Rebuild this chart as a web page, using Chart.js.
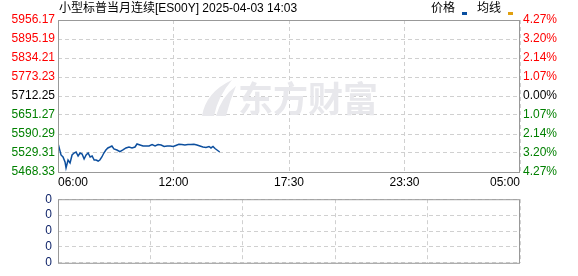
<!DOCTYPE html>
<html>
<head>
<meta charset="utf-8">
<script src="https://cdn.jsdelivr.net/npm/chart.js@4.4.0/dist/chart.umd.min.js"></script>
<style>
    body { margin: 0; background: #fff; }
    #wrap { position: relative; width: 578px; height: 276px; }
    canvas { position: absolute; left: 0; }
</style>
</head>
<body>
<div id="wrap">
    <canvas id="priceChart" style="top:0" width="578" height="192"></canvas>
    <canvas id="volChart" style="top:186px" width="578" height="90"></canvas>
</div>
<script>
// Minute prices (06:00 -> 14:03)
const times = [
    '06:00','06:03','06:09','06:15','06:21','06:24','06:30','06:36','06:42','06:48',
    '06:54','07:00','07:06','07:12','07:18','07:24','07:30','07:36','07:42','07:48',
    '07:54','08:00','08:05','08:11','08:17','08:23','08:29','08:35','08:41','08:47',
    '08:56','09:05','09:14','09:23','09:32','09:41','09:50','09:56','10:05','10:14',
    '10:23','10:32','10:41','10:50','10:59','11:08','11:17','11:26','11:35','11:44',
    '11:52','12:01','12:10','12:19','12:28','12:37','12:46','12:55','13:04','13:13',
    '13:22','13:31','13:37','13:43','13:49','13:55','14:03'
];
const prices = [
    5539.00, 5548.50, 5523.00, 5516.50, 5500.50, 5481.25, 5506.75, 5497.25, 5523.00, 5529.25,
    5532.50, 5519.75, 5529.25, 5526.00, 5510.00, 5523.00, 5529.25, 5516.50, 5519.75, 5506.75,
    5506.75, 5503.50, 5506.75, 5516.50, 5529.25, 5539.00, 5545.50, 5548.50, 5551.75, 5542.25,
    5539.00, 5533.50, 5539.00, 5545.50, 5548.50, 5545.50, 5548.50, 5558.25, 5555.00, 5551.75,
    5551.75, 5551.75, 5556.50, 5551.75, 5556.50, 5555.00, 5550.25, 5551.75, 5551.75, 5550.25,
    5553.50, 5557.25, 5556.50, 5555.00, 5556.50, 5556.50, 5557.25, 5555.00, 5551.75, 5548.50,
    5547.00, 5550.25, 5545.50, 5550.25, 5543.75, 5539.00, 5532.50
];
const volumes = [];

const prevClose = 5712.25;
const priceTicks = [5468.33, 5529.31, 5590.29, 5651.27, 5712.25, 5773.23, 5834.21, 5895.19, 5956.17];
const priceLabels = ['5468.33', '5529.31', '5590.29', '5651.27', '5712.25', '5773.23', '5834.21', '5895.19', '5956.17'];
const pctLabels = ['4.27%', '3.20%', '2.14%', '1.07%', '0.00%', '1.07%', '2.14%', '3.20%', '4.27%'];
const timeLabels = ['06:00', '12:00', '17:30', '23:30', '05:00'];
const volTicks = [0, 1, 2, 3, 4];
const volLabels = ['0', '0', '0', '0', '0'];

const titleText = '小型标普当月连续[ES00Y] 2025-04-03 14:03';
const sessionMinutes = 1380; // 06:00 -> 05:00 next day

const FONT = "'Liberation Sans', Arial, 'Noto Sans CJK SC', sans-serif";

function toMinutes(t) {
    const [h, m] = t.split(':').map(Number);
    return ((h * 60 + m) - 360 + 1440) % 1440;
}
const timeTickPos = timeLabels.map((_, i) => i * sessionMinutes / (timeLabels.length - 1));

function tickColor(v) {
    if (Math.abs(v - prevClose) < 0.01) return '#000';
    return v > prevClose ? '#ff0000' : '#008000';
}

// frame around the plot area
const framePlugin = {
    id: 'frame',
    afterDraw(chart) {
        const { ctx, chartArea: a } = chart;
        ctx.save();
        ctx.strokeStyle = '#999';
        ctx.lineWidth = 1;
        ctx.strokeRect(a.left + 0.5, a.top + 0.5, a.right - a.left - 1, a.bottom - a.top);
        ctx.restore();
    }
};

// watermark, title and legend of the price chart
const decorPlugin = {
    id: 'decor',
    beforeDatasetsDraw(chart) {
        const ctx = chart.ctx;
        ctx.save();
        ctx.fillStyle = '#e8e8ec';
        // leaf logo
        ctx.beginPath();
        ctx.moveTo(202, 116);
        ctx.quadraticCurveTo(206, 92, 232, 80);
        ctx.quadraticCurveTo(218, 96, 214, 116);
        ctx.closePath();
        ctx.fill();
        ctx.beginPath();
        ctx.moveTo(216, 116);
        ctx.quadraticCurveTo(222, 96, 236, 86);
        ctx.quadraticCurveTo(230, 100, 226, 116);
        ctx.closePath();
        ctx.fill();
        ctx.font = "bold 35px 'Noto Sans CJK SC'";
        ctx.textBaseline = 'middle';
        ctx.fillText('东方财富', 238, 99);
        ctx.restore();
    },
    afterDraw(chart) {
        const ctx = chart.ctx;
        ctx.save();
        ctx.textBaseline = 'middle';
        ctx.fillStyle = '#000';
        ctx.font = '12px ' + FONT;
        ctx.fillText(titleText, 59, 9);
        ctx.fillText('价格', 431, 9);
        ctx.fillText('均线', 477, 9);
        ctx.fillStyle = '#0a4fa0';
        ctx.fillRect(462, 12, 5, 3);
        ctx.fillStyle = '#e0a010';
        ctx.fillRect(508, 12, 5, 3);
        ctx.restore();
    }
};

new Chart(document.getElementById('priceChart'), {
    type: 'line',
    data: {
        datasets: [{
            label: '价格',
            data: times.map((t, i) => ({ x: toMinutes(t), y: prices[i] })),
            borderColor: '#0d4f9e',
            borderWidth: 1.5,
            pointRadius: 0,
            tension: 0,
            yAxisID: 'y'
        }]
    },
    options: {
        responsive: false,
        devicePixelRatio: 1,
        animation: false,
        layout: { padding: { top: 20, left: 0, right: 0, bottom: 0 } },
        plugins: { legend: { display: false }, tooltip: { enabled: false } },
        scales: {
            x: {
                type: 'linear',
                min: 0,
                max: sessionMinutes,
                afterBuildTicks: s => { s.ticks = timeTickPos.map(v => ({ value: v })); },
                afterFit: s => { s.height = 20; },
                ticks: {
                    align: 'inner',
                    maxRotation: 0,
                    autoSkip: false,
                    padding: 3,
                    color: '#000',
                    font: { family: FONT, size: 12 },
                    callback: (v, i) => timeLabels[i]
                },
                grid: { color: '#d0d0d0', drawTicks: false },
                border: { display: false, dash: [4, 3] }
            },
            y: {
                position: 'left',
                min: priceTicks[0],
                max: priceTicks[priceTicks.length - 1],
                afterBuildTicks: s => { s.ticks = priceTicks.map(v => ({ value: v })); },
                afterFit: s => { s.width = 58; },
                ticks: {
                    padding: 3,
                    font: { family: FONT, size: 12 },
                    color: c => tickColor(c.tick.value),
                    callback: (v, i) => priceLabels[i]
                },
                grid: { color: '#d0d0d0', drawTicks: false },
                border: { display: false, dash: [4, 3] }
            },
            y1: {
                position: 'right',
                min: priceTicks[0],
                max: priceTicks[priceTicks.length - 1],
                afterBuildTicks: s => { s.ticks = priceTicks.map(v => ({ value: v })); },
                afterFit: s => { s.width = 58; },
                ticks: {
                    padding: 3,
                    font: { family: FONT, size: 12 },
                    color: c => tickColor(c.tick.value),
                    callback: (v, i) => pctLabels[i]
                },
                grid: { display: false, drawTicks: false },
                border: { display: false }
            }
        }
    },
    plugins: [decorPlugin, framePlugin]
});

new Chart(document.getElementById('volChart'), {
    type: 'bar',
    data: {
        datasets: [{
            label: '成交量',
            data: volumes,
            backgroundColor: '#0d4f9e'
        }]
    },
    options: {
        responsive: false,
        devicePixelRatio: 1,
        animation: false,
        layout: { padding: { top: 10, left: 0, right: 58, bottom: 6 } },
        plugins: { legend: { display: false }, tooltip: { enabled: false } },
        scales: {
            x: {
                type: 'linear',
                min: 0,
                max: sessionMinutes,
                afterBuildTicks: s => { s.ticks = timeTickPos.map(v => ({ value: v })); },
                afterFit: s => { s.height = 0; },
                ticks: { display: false },
                grid: { color: '#d0d0d0', drawTicks: false },
                border: { display: false, dash: [4, 3] }
            },
            y: {
                min: 0,
                max: 4,
                afterBuildTicks: s => { s.ticks = volTicks.map(v => ({ value: v })); },
                afterFit: s => { s.width = 58; },
                ticks: {
                    padding: 6,
                    color: '#0a1f66',
                    font: { family: FONT, size: 12 },
                    callback: (v, i) => volLabels[i]
                },
                grid: { color: '#d0d0d0', drawTicks: false },
                border: { display: false, dash: [4, 3] }
            }
        }
    },
    plugins: [framePlugin]
});
</script>
</body>
</html>
